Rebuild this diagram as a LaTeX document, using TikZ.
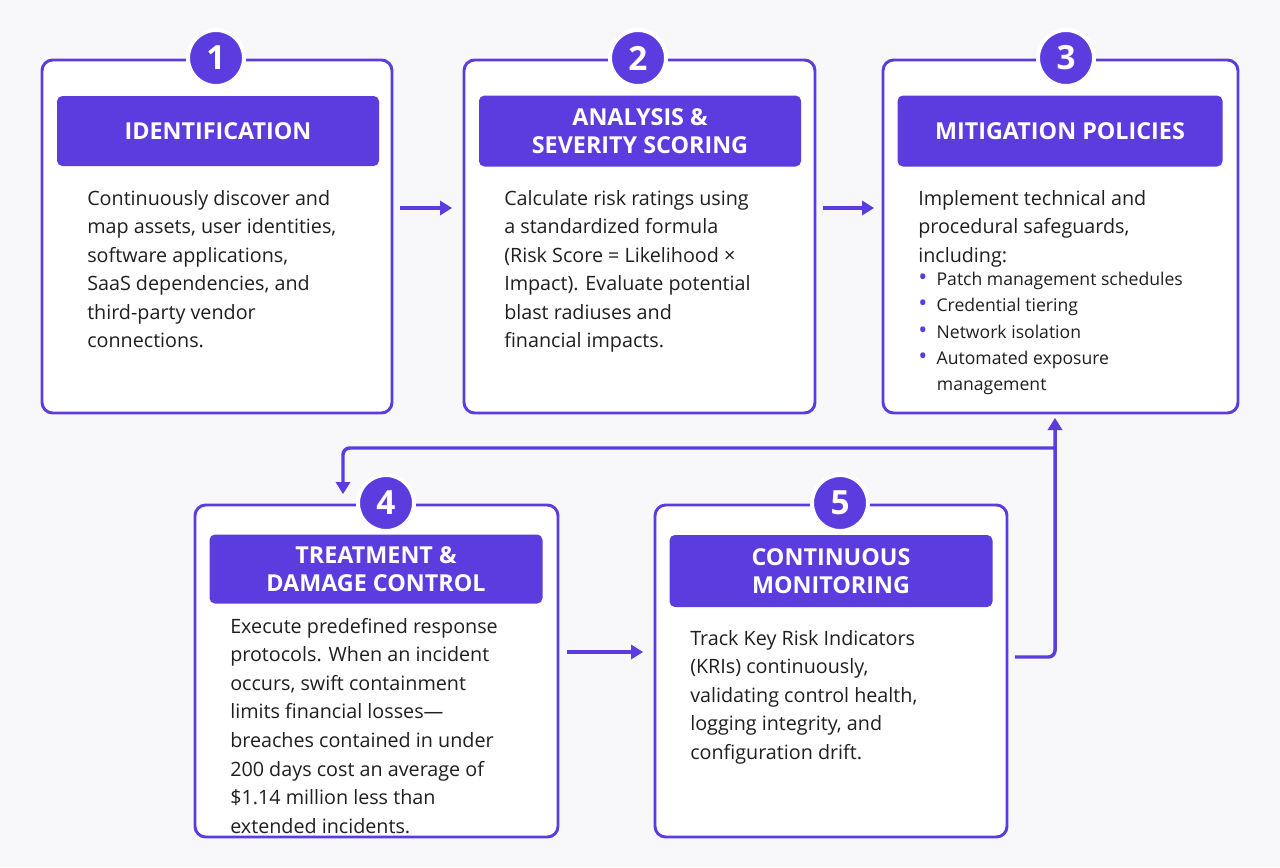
\documentclass[tikz,border=0pt]{standalone}
\usepackage{fontspec}
\setmainfont{Open Sans}
\usetikzlibrary{arrows.meta}
\definecolor{pur}{HTML}{5B3DDF}
\definecolor{bg}{HTML}{F8F8FA}
\newcommand{\mybul}{\textcolor{pur}{\fontsize{18}{19.7}\selectfont\textbullet}\hspace{7pt}}
\begin{document}
\begin{tikzpicture}[x=0.75pt,y=-0.75pt,
 box/.style={draw=pur,line width=2.2pt,rounded corners=8pt,fill=white},
 hdr/.style={fill=pur,rounded corners=4pt,text=white,font=\fontsize{17.5}{20.5}\selectfont\bfseries,align=center},
 num/.style={circle,fill=pur,draw=white,line width=3pt,minimum size=56pt*0.75,inner sep=0pt,text=white,font=\fontsize{25}{25}\selectfont\bfseries},
 body/.style={anchor=north west,align=left,inner sep=0pt,font=\fontsize{14.8}{21.4}\selectfont,text=black!88},
 bul/.style={anchor=north west,align=left,inner sep=0pt,font=\fontsize{13.2}{19.7}\selectfont,text=black!88},
 arr/.style={draw=pur,line width=2.6pt,-{Stealth[length=9pt,width=11pt,inset=0pt,line width=1pt]},rounded corners=5pt}]
\fill[bg] (0,0) rectangle (1280,867);
\useasboundingbox (0,0) rectangle (1280,867);
\draw[box] (42,60) rectangle (392,413);
\draw[box] (464,60) rectangle (815,413);
\draw[box] (883,60) rectangle (1238,413);
\draw[box] (195,505) rectangle (558,837);
\draw[box] (655,505) rectangle (1007,837);
\node[hdr,minimum width=322pt*0.75,minimum height=70pt*0.75] (h1) at (218,131) {IDENTIFICATION};
\node[hdr,minimum width=322pt*0.75,minimum height=71pt*0.75] (h2) at (640,131) {ANALYSIS \&\\SEVERITY SCORING};
\node[hdr,minimum width=325pt*0.75,minimum height=71pt*0.75] (h3) at (1060,131) {MITIGATION POLICIES};
\node[hdr,minimum width=333pt*0.75,minimum height=69pt*0.75] (h4) at (376,569) {TREATMENT \&\\DAMAGE CONTROL};
\node[hdr,minimum width=323pt*0.75,minimum height=72pt*0.75] (h5) at (831,571) {CONTINUOUS\\MONITORING};
\node[num] (n1) at (216,58) {1};
\node[num] (n2) at (638,58) {2};
\node[num] (n3) at (1066,58) {3};
\node[num] (n4) at (386,503) {4};
\node[num] (n5) at (840,503) {5};
\node[body] (t1) at (87,190) {Continuously discover and\\map assets, user identities,\\software applications,\\SaaS dependencies, and\\third-party vendor\\connections.};
\node[body] (t2) at (504,190) {Calculate risk ratings using\\a standardized formula\\(Risk Score = Likelihood ×\\Impact). Evaluate potential\\blast radiuses and\\financial impacts.};
\node[body] (t3) at (918,190) {Implement technical and\\procedural safeguards,\\including:};
\node[bul] (b3) at (918,272) {\mybul Patch management schedules\\\mybul Credential tiering\\\mybul Network isolation\\\mybul Automated exposure\\\hspace*{14pt}management};
\node[body] (t4) at (230,618) {Execute predefined response\\protocols. When an incident\\occurs, swift containment\\limits financial losses—\\breaches contained in under\\200 days cost an average of\\\$1.14 million less than\\extended incidents.};
\node[body] (t5) at (690,630) {Track Key Risk Indicators\\(KRIs) continuously,\\validating control health,\\logging integrity, and\\configuration drift.};
\coordinate (a1s) at (400,208); \coordinate (a1e) at (452,208);
\coordinate (a2s) at (823,208); \coordinate (a2e) at (874,208);
\coordinate (a3s) at (567,652); \coordinate (a3e) at (643,652);
\draw[arr] (a1s) -- (a1e);
\draw[arr] (a2s) -- (a2e);
\draw[arr] (a3s) -- (a3e);
\coordinate (l1) at (1015,657); \coordinate (l2) at (1055,657); \coordinate (l3) at (1055,418);
\coordinate (l4) at (1055,448); \coordinate (l5) at (343,448); \coordinate (l6) at (343,494);
\draw[arr] (l1) -- (l2) -- (l3);
\draw[arr] (l4) -- (l5) -- (l6);
\end{tikzpicture}
\end{document}
